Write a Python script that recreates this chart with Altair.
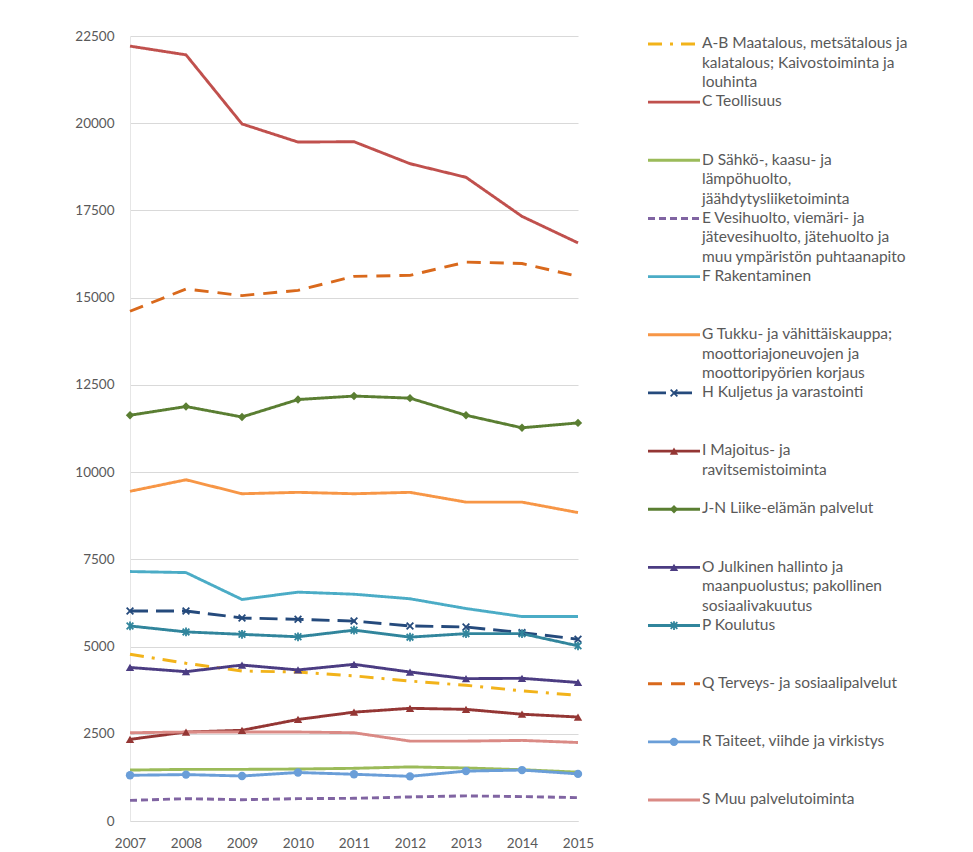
import altair as alt
import pandas as pd

years = [2007, 2008, 2009, 2010, 2011, 2012, 2013, 2014, 2015]

keys = ["A-B", "C", "D", "E", "F", "G", "H", "I", "J-N", "O", "P", "Q", "R", "S"]

legend_labels = [
    "A-B Maatalous, metsätalous ja\nkalatalous;  Kaivostoiminta ja\nlouhinta",
    "C Teollisuus",
    "D Sähkö-, kaasu- ja\nlämpöhuolto,\njäähdytysliiketoiminta",
    "E Vesihuolto, viemäri- ja\njätevesihuolto, jätehuolto ja\nmuu ympäristön puhtaanapito",
    "F Rakentaminen",
    "G Tukku- ja vähittäiskauppa;\nmoottoriajoneuvojen ja\nmoottoripyörien korjaus",
    "H Kuljetus ja varastointi",
    "I Majoitus- ja\nravitsemistoiminta",
    "J-N Liike-elämän palvelut",
    "O Julkinen hallinto ja\nmaanpuolustus; pakollinen\nsosiaalivakuutus",
    "P Koulutus",
    "Q Terveys- ja sosiaalipalvelut",
    "R Taiteet, viihde ja virkistys",
    "S Muu palvelutoiminta",
]

v_ab = [4780, 4520, 4300, 4270, 4160, 4010, 3890, 3730, 3600]
v_c = [22210, 21960, 19980, 19460, 19470, 18840, 18450, 17330, 16570]
v_d = [1460, 1480, 1480, 1490, 1510, 1550, 1520, 1470, 1400]
v_e = [590, 640, 610, 640, 650, 690, 720, 700, 670]
v_f = [7150, 7120, 6350, 6560, 6500, 6370, 6090, 5860, 5860]
v_g = [9450, 9780, 9380, 9420, 9380, 9420, 9140, 9140, 8840]
v_h = [6020, 6020, 5820, 5780, 5730, 5590, 5560, 5400, 5210]
v_i = [2340, 2550, 2600, 2910, 3120, 3230, 3200, 3060, 2980]
v_jn = [11630, 11880, 11580, 12080, 12180, 12120, 11630, 11270, 11410]
v_o = [4400, 4280, 4470, 4330, 4490, 4270, 4080, 4090, 3970]
v_p = [5590, 5420, 5350, 5280, 5470, 5270, 5370, 5370, 5020]
v_q = [14610, 15250, 15060, 15210, 15610, 15640, 16020, 15980, 15610]
v_r = [1310, 1330, 1290, 1390, 1340, 1280, 1430, 1460, 1350]
v_s = [2530, 2550, 2550, 2550, 2530, 2290, 2290, 2310, 2250]

all_values = [v_ab, v_c, v_d, v_e, v_f, v_g, v_h, v_i, v_jn, v_o, v_p, v_q, v_r, v_s]

colors = ["#F2B31A", "#C0504D", "#9BBB59", "#8064A2", "#4BACC6", "#F79646", "#254A7C",
          "#943634", "#5A7E32", "#4B3C82", "#31859C", "#D9691C", "#6A9ED8", "#DA8A85"]
dashes = [[14, 8, 3, 8], [1, 0], [1, 0], [7, 4], [1, 0], [1, 0], [18, 8],
          [1, 0], [1, 0], [1, 0], [1, 0], [14, 9], [1, 0], [1, 0]]

filled_keys = ["I", "J-N", "O", "R"]
open_keys = ["H", "P"]
marker_keys = filled_keys + open_keys
marker_shapes = ["triangle-up", "diamond", "triangle-up", "circle",
                 "M-1,-1L1,1M-1,1L1,-1",
                 "M-1,-1L1,1M-1,1L1,-1M0,-1.3L0,1.3"]

rows = []
for k, vals in zip(keys, all_values):
    for yr, v in zip(years, vals):
        rows.append({"key": k, "year": yr, "value": v})
df = pd.DataFrame(rows)

leg = pd.DataFrame({"key": keys, "idx": list(range(len(keys))), "label": legend_labels})

FONT = "Lato"
GRAY = "#595959"

color_scale = alt.Scale(domain=keys, range=colors)
dash_scale = alt.Scale(domain=keys, range=dashes)
shape_scale = alt.Scale(domain=marker_keys, range=marker_shapes)

x_enc = alt.X("year:O", scale=alt.Scale(type="point", padding=0),
              axis=alt.Axis(title=None, labelAngle=0, ticks=False, grid=False,
                            domainColor="#d9d9d9", labelPadding=15, labelFont=FONT,
                            labelFontSize=13.5, labelColor=GRAY))
y_enc = alt.Y("value:Q", scale=alt.Scale(domain=[0, 22500], nice=False, zero=True),
              axis=alt.Axis(title=None, values=list(range(0, 22501, 2500)), ticks=False,
                            format="d",
                            domainColor="#e6e6e6", gridColor="#d9d9d9", labelPadding=16,
                            labelFont=FONT, labelFontSize=13.5, labelColor=GRAY))

base = alt.Chart(df).encode(x=x_enc, y=y_enc)

lines = base.mark_line(strokeWidth=2.9).encode(
    color=alt.Color("key:N", scale=color_scale, legend=None),
    strokeDash=alt.StrokeDash("key:N", scale=dash_scale, legend=None),
)
pts_f = base.transform_filter(alt.FieldOneOfPredicate(field="key", oneOf=filled_keys)).mark_point(
    filled=True, size=70, opacity=1).encode(
    color=alt.Color("key:N", scale=color_scale, legend=None),
    shape=alt.Shape("key:N", scale=shape_scale, legend=None),
)
pts_o = base.transform_filter(alt.FieldOneOfPredicate(field="key", oneOf=open_keys)).mark_point(
    filled=False, size=45, strokeWidth=1.8, opacity=1).encode(
    color=alt.Color("key:N", scale=color_scale, legend=None),
    shape=alt.Shape("key:N", scale=shape_scale, legend=None),
)

main = alt.layer(lines, pts_f, pts_o).properties(width=448, height=785)

ly = alt.Y("idx:Q", scale=alt.Scale(domain=[0, 13], range=[8, 764]), axis=None)
lbase = alt.Chart(leg).encode(y=ly)
l_rules = lbase.mark_rule(strokeWidth=2.9).encode(
    x=alt.value(0), x2=alt.value(52),
    color=alt.Color("key:N", scale=color_scale, legend=None),
    strokeDash=alt.StrokeDash("key:N", scale=dash_scale, legend=None),
)
l_pf = lbase.transform_filter(alt.FieldOneOfPredicate(field="key", oneOf=filled_keys)).mark_point(
    filled=True, size=70, opacity=1).encode(
    x=alt.value(26),
    color=alt.Color("key:N", scale=color_scale, legend=None),
    shape=alt.Shape("key:N", scale=shape_scale, legend=None),
)
l_po = lbase.transform_filter(alt.FieldOneOfPredicate(field="key", oneOf=open_keys)).mark_point(
    filled=False, size=45, strokeWidth=1.8, opacity=1).encode(
    x=alt.value(26),
    color=alt.Color("key:N", scale=color_scale, legend=None),
    shape=alt.Shape("key:N", scale=shape_scale, legend=None),
)
l_text = lbase.mark_text(align="left", baseline="line-top", dy=-9.75, lineBreak="\n",
                         lineHeight=19.5, fontSize=15.5, font=FONT, color=GRAY).encode(
    x=alt.value(54), text="label:N")

legend = alt.layer(l_rules, l_pf, l_po, l_text).properties(width=290, height=785)

chart = alt.hconcat(main, legend, spacing=70, bounds="flush").properties(
    padding={"left": 66, "top": 21, "right": 5, "bottom": 5}
).configure_view(stroke=None)

chart.save("out.html", embed_options={"renderer": "svg", "actions": False})
